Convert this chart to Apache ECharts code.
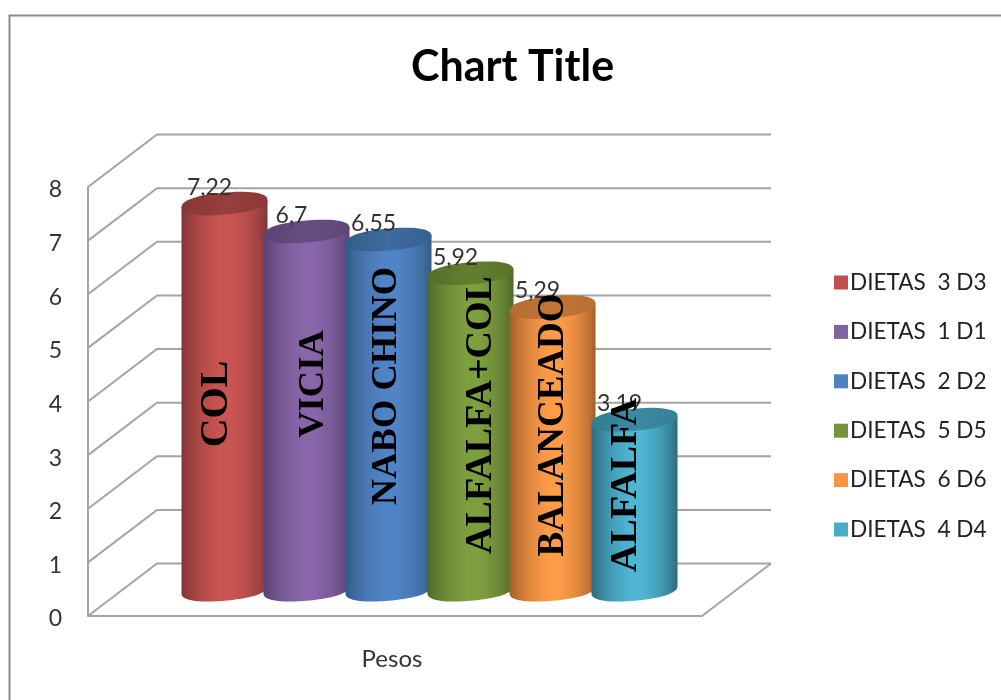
<!DOCTYPE html>
<html><head><meta charset="utf-8">
<style>html,body{margin:0;padding:0;background:#fff}#c{width:1001px;height:700px}</style>
<script src="https://cdn.jsdelivr.net/npm/echarts@6/dist/echarts.min.js"></script>
</head><body><div id="c"></div>
<script>
const categories = ['Pesos'];
const seriesNames = ['DIETAS  3 D3','DIETAS  1 D1','DIETAS  2 D2','DIETAS  5 D5','DIETAS  6 D6','DIETAS  4 D4'];
const seriesValues = [7.22, 6.7, 6.55, 5.92, 5.29, 3.19];
const valueLabels = ['7,22','6,7','6,55','5,92','5,29','3,19'];
const barNames = ['COL','VICIA','NABO CHINO','ALFALFA+COL','BALANCEADO','ALFALFA'];
const yTicks = [0,1,2,3,4,5,6,7,8];

// styling
const legendColors = ['#C0504D','#8064A2','#4F81BD','#77933C','#F79646','#4BACC6'];
const edgeColors  = ['#7f3633','#57426f','#325a85','#4f6728','#a05f2a','#2c6a7c'];
const midColors   = ['#ca5451','#8966aa','#5184c7','#7e9f3e','#fd9b49','#4fb5d2'];
const topEdge     = ['#853835','#5a4472','#345c8a','#556e29','#b36c30','#327c92'];
const topMid      = ['#983f3c','#664e84','#3e6c9f','#627f2f','#c27636','#3b8aa3'];
const nameShift = [-8, 7, -2, 11, 1, -8];
const nameCenterY = [404,384,386,415,425,485];
const nameSizes = [40,36.5,36.5,38,37,38];
const DEPTH = {dx:69, dy:-52.5};
const PITCH = 82, RX = 43, RY = 11, SHEAR = -0.085, N = 60, ROUND = 0.88;
const LINE = '#a4a4a4';

function pow(c){return Math.sign(c)*Math.pow(Math.abs(c),ROUND);}
function ellipsePts(cx, cy, from, to){
  const p=[];
  for(let k=0;k<=N;k++){
    const t=from+(to-from)*k/N, c=pow(Math.cos(t)), s=pow(Math.sin(t));
    p.push([cx+RX*c, cy+RX*SHEAR*c+RY*s]);
  }
  return p;
}
function shade(a,b,stops){
  return new echarts.graphic.LinearGradient(0,0,1,0,stops.map(([o,k])=>({offset:o,color:echarts.color.lerp(k,[a,b])})));
}
const wallSeries = {
  type:'custom', name:'walls', z:1, silent:true, clip:false,
  data: yTicks.map(v=>[0,v]), encode:{x:0,y:1},
  renderItem(params, api){
    const v=api.value(1), rect=params.coordSys;
    const a=api.coord([0,v]);
    const x0=rect.x, y=a[1];
    const s={stroke:LINE,lineWidth:2,fill:null};
    const children=[{type:'polyline',shape:{points:[[x0,y],[x0+DEPTH.dx,y+DEPTH.dy],[x0+rect.width+DEPTH.dx,y+DEPTH.dy]]},style:s}];
    if(v===0) children.push({type:'polyline',shape:{points:[[x0+rect.width,y],[x0+rect.width+DEPTH.dx,y+DEPTH.dy]]},style:s});
    return {type:'group',children};
  }
};
const cylSeries = seriesNames.map((name,i)=>({
  type:'custom', name, z:2, clip:false,
  itemStyle:{color:legendColors[i]},
  data:[[0,seriesValues[i]]], encode:{x:0,y:1},
  renderItem(params, api){
    const base=api.coord([0,0]), top=api.coord([0,api.value(1)]);
    const cx=base[0]+DEPTH.dx/2+(i-2.5)*PITCH;
    const by=base[1]+DEPTH.dy/2, ty=top[1]+DEPTH.dy/2+1;
    const sidePts=[[cx-RX,ty-RX*SHEAR],[cx+RX,ty+RX*SHEAR]].concat(ellipsePts(cx,by,0,Math.PI));
    const grad=shade(edgeColors[i],midColors[i],[[0,0],[0.1,0.35],[0.25,0.72],[0.45,1],[0.6,1],[0.78,0.72],[0.92,0.35],[1,0]]);
    const topGrad=shade(topEdge[i],topMid[i],[[0,0],[0.5,1],[1,0.3]]);
    return {type:'group',children:[
      {type:'polygon',shape:{points:sidePts},style:{fill:grad}},
      {type:'polygon',shape:{points:ellipsePts(cx,ty,0,Math.PI*2)},style:{fill:topGrad}},
      {type:'text',z2:50,style:{x:cx-15,y:ty-16,text:valueLabels[i],align:'center',verticalAlign:'middle',
        font:'23px Lato',fill:'#333'}},
      {type:'text',z2:60,rotation:Math.PI/2,x:cx+nameShift[i],y:nameCenterY[i],
        style:{x:0,y:0,text:barNames[i],align:'center',verticalAlign:'middle',
        font:'bold '+nameSizes[i]+'px "Liberation Serif"',fill:'#000'}}
    ]};
  }
}));
const chart=echarts.init(document.getElementById('c'),null,{renderer:'canvas'});
chart.setOption({
  animation:false, backgroundColor:'#fff',
  title:{text:'Chart Title',left:411,top:46,padding:0,
    textStyle:{fontFamily:'Lato',fontWeight:'bold',fontSize:43,color:'#000'}},
  graphic:[{type:'polyline',silent:true,shape:{points:[[9.5,700],[9.5,15.5],[1001,15.5]]},style:{stroke:'#8c8c8c',lineWidth:2,fill:null}}],
  legend:{show:true,data:seriesNames,orient:'vertical',left:829,top:266,itemWidth:14,itemHeight:14,itemGap:26.4,
    icon:'rect',textStyle:{fontFamily:'Lato',fontSize:22.6,color:'#222',padding:[0,0,0,-3]}},
  grid:{left:88,top:187,width:614,height:429,containLabel:false},
  xAxis:{type:'category',data:categories,axisTick:{show:false},
    axisLine:{lineStyle:{color:LINE,width:2}},
    axisLabel:{margin:31,fontFamily:'Lato',fontSize:24,color:'#333',padding:[0,6,0,0]}},
  yAxis:{type:'value',min:0,max:8,interval:1,splitLine:{show:false},axisTick:{show:false},
    axisLine:{show:true,lineStyle:{color:LINE,width:2}},
    axisLabel:{margin:26,fontFamily:'Lato',fontSize:23,color:'#333',verticalAlign:'top',lineHeight:6}},
  series:[wallSeries].concat(cylSeries)
});
</script></body></html>
